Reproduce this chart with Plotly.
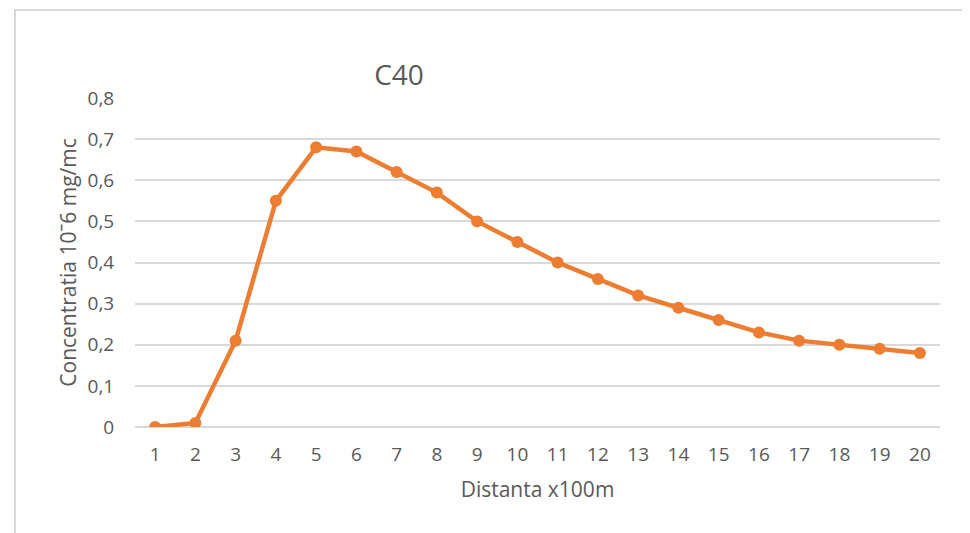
import plotly.graph_objects as go

# Data
distance = [str(i) for i in range(1, 21)]
concentration = [0, 0.01, 0.21, 0.55, 0.68, 0.67, 0.62, 0.57, 0.50, 0.45,
                 0.40, 0.36, 0.32, 0.29, 0.26, 0.23, 0.21, 0.20, 0.19, 0.18]
y_ticks = [0, 0.1, 0.2, 0.3, 0.4, 0.5, 0.6, 0.7, 0.8]
y_labels = ["0", "0,1", "0,2", "0,3", "0,4", "0,5", "0,6", "0,7", "0,8"]

orange = "#ED7D31"
grey_text = "#595959"
font_family = "Open Sans, Liberation Sans, sans-serif"

# the page body adds an 8px offset, so the figure is sized to compensate
W, H = 962, 525
OFF = 8
# wanted plot area in window pixels
PL, PR, PT, PB = 135, 940, 98, 427

fig = go.Figure()
fig.add_trace(go.Scatter(
    x=distance,
    y=concentration,
    mode="lines+markers",
    line=dict(color=orange, width=4.5),
    marker=dict(color=orange, size=12),
    showlegend=False,
))

fig.update_layout(
    width=W,
    height=H,
    margin=dict(l=PL - OFF, r=W - (PR - OFF), t=PT - OFF, b=H - (PB - OFF)),
    paper_bgcolor="white",
    plot_bgcolor="white",
    font=dict(family=font_family, color=grey_text, size=19),
    title=dict(
        text="C40",
        x=(399 - OFF) / W, xanchor="center",
        y=1 - (75 - OFF) / H, yanchor="middle",
        font=dict(size=28, color=grey_text, family=font_family),
    ),
    xaxis=dict(
        type="category",
        range=[-0.5, 19.5],
        showgrid=False,
        showline=False,
        zeroline=False,
        ticks="outside",
        ticklen=10,
        tickcolor="white",
        tickfont=dict(size=19, color=grey_text),
        title=dict(text="Distanta x100m", standoff=16,
                   font=dict(size=21, color=grey_text)),
    ),
    yaxis=dict(
        range=[0, 0.8],
        tickvals=y_ticks,
        ticktext=y_labels,
        showgrid=True,
        gridcolor="#D9D9D9",
        gridwidth=2,
        zeroline=True,
        zerolinecolor="#D9D9D9",
        zerolinewidth=2,
        ticks="outside",
        ticklen=16,
        tickcolor="white",
        tickfont=dict(size=19, color=grey_text),
        title=dict(text="Concentratia 10ˉ6 mg/mc", standoff=5,
                   font=dict(size=21, color=grey_text)),
    ),
)

# Light chart border
plot_w = PR - PL
plot_h = PB - PT
fig.add_shape(
    type="rect", xref="paper", yref="paper",
    x0=(15 - PL) / plot_w, x1=(967 - PL) / plot_w,
    y0=-0.4, y1=(PB - 10) / plot_h,
    line=dict(color="#D9D9D9", width=2),
    fillcolor="rgba(0,0,0,0)",
    layer="below",
)

fig.write_html("out.html")
